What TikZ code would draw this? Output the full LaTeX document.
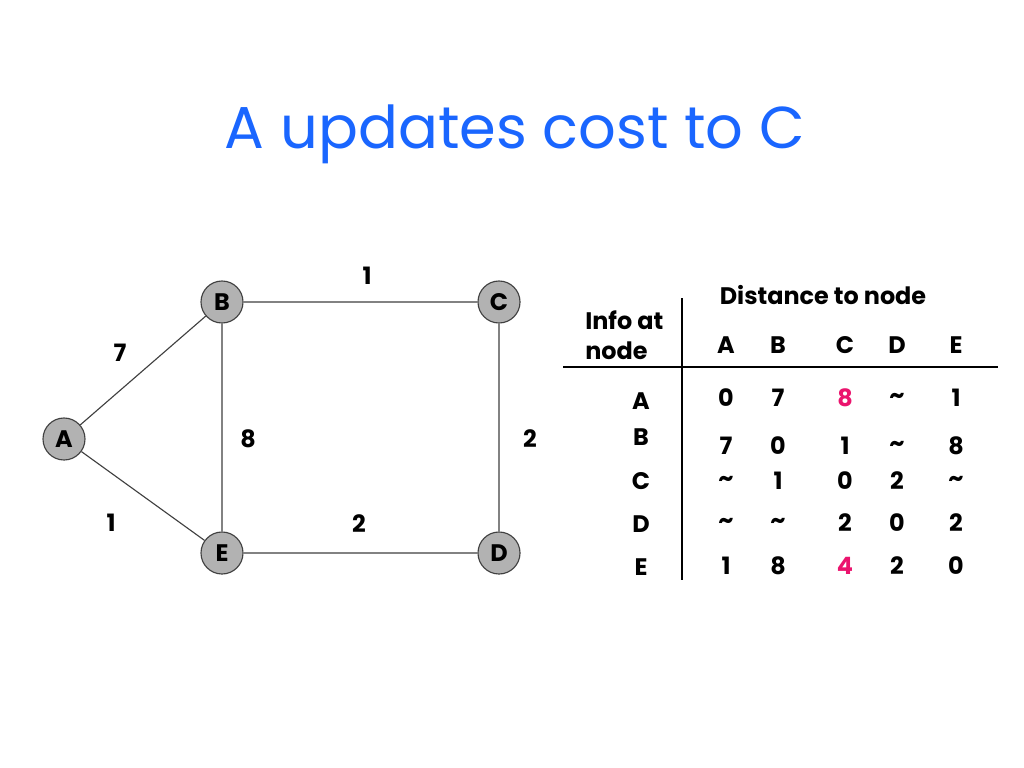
\documentclass[tikz,border=0pt]{standalone}
\usepackage{fontspec}
\setmainfont{Poppins}
\definecolor{titleblue}{RGB}{26,102,255}
\definecolor{hotpink}{RGB}{235,20,110}
\newcommand{\nc}{\textasciitilde}
\newcommand{\upd}[1]{\textcolor{hotpink}{#1}}

\begin{document}
\begin{tikzpicture}[x=0.025cm, y=-0.025cm, line width=0.8pt]
\tikzset{vertex/.style={circle, draw=black!75, fill=black!30, minimum size=1.05cm, inner sep=0, font=\fontsize{17}{17}\selectfont\bfseries},
  weight/.style={font=\fontsize{17}{17}\selectfont\bfseries},
  cell/.style={font=\fontsize{17}{17}\selectfont\bfseries}}
\useasboundingbox[fill=white] (0,0) rectangle (1024,768);
\node (title) [text=titleblue, font=\fontsize{42}{42}\selectfont] at (515,134) {A updates cost to C};
% graph
\node (A) [vertex] at (64,439) {A};
\node (B) [vertex] at (222,302) {B};
\node (C) [vertex] at (499,302) {C};
\node (D) [vertex] at (499,553) {D};
\node (E) [vertex] at (222,553) {E};
\draw[black!75] (A) -- (B) (A) -- (E) (B) -- (C) (B) -- (E) (C) -- (D) (E) -- (D);
\node (wAB) [weight] at (120,353) {7};
\node (wAE) [weight] at (111,523) {1};
\node (wBC) [weight] at (367,276) {1};
\node (wBE) [weight] at (248,439) {8};
\node (wCD) [weight] at (530,439) {2};
\node (wED) [weight] at (359,524) {2};
% table
\node (dist) [cell] at (823,295) {Distance to node};
\node (info) [cell, anchor=west, align=left, font=\fontsize{17}{21}\selectfont\bfseries] at (580,335) {Info at\\node};
\draw (682,298) -- (682,580) (563,367) -- (998,367);
\foreach \col [count=\c] in {A,B,C,D,E} {
  \pgfmathsetmacro\cx{{726,778,845,897,956}[\c-1]}
  \node (h\col) [cell] at (\cx,345) {\col};
}
\foreach \row/\ly/\ry/\entries in {A/401/398/{0,7,\upd{8},\nc,1}, B/437/446/{7,0,1,\nc,8}, C/481/481/{\nc,1,0,2,\nc}, D/524/523/{\nc,\nc,2,0,2}, E/567/566/{1,8,\upd{4},2,0}} {
  \node (r\row) [cell] at (641,\ly) {\row};
  \foreach \v [count=\c] in \entries {
    \pgfmathsetmacro\cx{{726,778,845,897,956}[\c-1]}
    \node (\row\c) [cell] at (\cx,\ry) {\v};
  }
}
\end{tikzpicture}
\end{document}
